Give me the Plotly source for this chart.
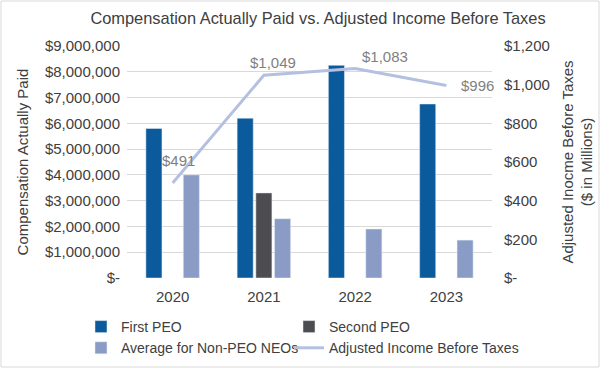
import plotly.graph_objects as go

years = ["2020", "2021", "2022", "2023"]
first_peo = [5800000, 6200000, 8250000, 6750000]
second_peo = [None, 3300000, None, None]
avg_neo = [4000000, 2300000, 1900000, 1470000]
income = [491, 1049, 1083, 996]
income_labels = ["$491", "$1,049", "$1,083", "$996"]

left_ticks = [0, 1000000, 2000000, 3000000, 4000000, 5000000, 6000000, 7000000, 8000000, 9000000]
left_labels = ["$-", "$1,000,000", "$2,000,000", "$3,000,000", "$4,000,000", "$5,000,000",
               "$6,000,000", "$7,000,000", "$8,000,000", "$9,000,000"]
right_ticks = [0, 200, 400, 600, 800, 1000, 1200]
right_labels = ["$-", "$200", "$400", "$600", "$800", "$1,000", "$1,200"]

FONT = "Liberation Sans, Arial, sans-serif"
TXT = "#404040"

fig = go.Figure()
fig.add_bar(x=years, y=first_peo, name="First PEO", marker_color="#0B5A9C", legend="legend")
fig.add_bar(x=years, y=second_peo, name="Second PEO", marker_color="#4D4D4F", legend="legend2")
fig.add_bar(x=years, y=avg_neo, name="Average for Non-PEO NEOs", marker_color="#8A9CC6", legend="legend")
fig.add_scatter(x=years, y=income, name="Adjusted Income Before Taxes", yaxis="y2",
                mode="lines", line=dict(color="#B4C0E0", width=3), legend="legend2")

# data labels for the line (x given as category index)
offsets = [(6, 23), (9, 13), (30, 12), (31, 0)]
for i, (v, lab, (dx, dy)) in enumerate(zip(income, income_labels, offsets)):
    fig.add_annotation(x=i, y=v, xref="x", yref="y2", text=lab, showarrow=False,
                       xshift=dx, yshift=dy, font=dict(size=15, color="#7F7F7F", family=FONT))

W, H = 600, 368
L, R, T, B = 127, 108, 46, 90
pw, ph = W - L - R, H - T - B

leg_common = dict(orientation="v", xanchor="left", y=(H - B - 311) / ph, yanchor="top",
                  font=dict(size=14, color=TXT, family=FONT), traceorder="normal",
                  tracegroupgap=0, bgcolor="rgba(0,0,0,0)")

fig.update_layout(
    width=W, height=H,
    margin=dict(l=L, r=R, t=T, b=B, autoexpand=False),
    paper_bgcolor="white", plot_bgcolor="white",
    font=dict(family=FONT, size=15, color=TXT),
    title=dict(text="Compensation Actually Paid vs. Adjusted Income Before Taxes",
               x=318 / W, xanchor="center", y=1 - 18 / H, yanchor="middle",
               font=dict(size=16.4, color=TXT, family=FONT)),
    barmode="group", bargap=0.385, bargroupgap=0.14,
    xaxis=dict(type="category", range=[-0.5, 3.5], showgrid=False, showline=False, ticks="",
               ticklabelstandoff=8, tickfont=dict(size=15, color=TXT)),
    yaxis=dict(range=[0, 9000000], tickvals=left_ticks, ticktext=left_labels,
               showgrid=True, gridcolor="#D9D9D9", gridwidth=1, zeroline=False,
               ticklabelstandoff=6,
               title=dict(text="Compensation Actually Paid", font=dict(size=15, color=TXT), standoff=12),
               tickfont=dict(size=15, color=TXT)),
    yaxis2=dict(range=[0, 1200], tickvals=right_ticks, ticktext=right_labels,
                overlaying="y", side="right", showgrid=False, zeroline=False,
                ticklabelstandoff=11,
                title=dict(text="Adjusted Inocme Before Taxes<br>($ in Millions)",
                           font=dict(size=15, color=TXT), standoff=13),
                tickfont=dict(size=15, color=TXT)),
    legend=dict(x=(81 - L) / pw, **leg_common),
    legend2=dict(x=(289 - L) / pw, **leg_common),
    showlegend=True,
)

fig.add_shape(type="rect", xref="paper", yref="paper",
              x0=(1 - L) / pw, x1=(W - 1 - L) / pw,
              y0=(H - B - (H - 1)) / ph, y1=(H - B - 1) / ph,
              line=dict(color="#D9D9D9", width=1), fillcolor="rgba(0,0,0,0)", layer="below")

fig.write_html("out.html", config={"displayModeBar": False},
               post_script="document.body.style.margin='0px';document.body.style.overflow='hidden';")
